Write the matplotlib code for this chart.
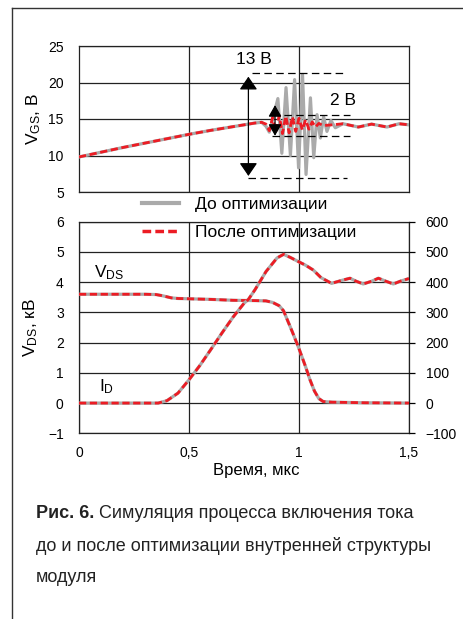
import matplotlib
matplotlib.use('Agg')
import matplotlib.pyplot as plt
from matplotlib.lines import Line2D

plt.rcParams['font.family'] = ['Liberation Sans', 'DejaVu Sans']
plt.rcParams['mathtext.fontset'] = 'custom'
plt.rcParams['mathtext.rm'] = 'Liberation Sans'

GRAY = '#aaaaaa'
RED = '#ec1c24'

# V_GS before optimisation (gray), t in us, V in volts
t_gs_before = [0, 0.1, 0.2, 0.3, 0.4, 0.5, 0.6, 0.7, 0.75, 0.8, 0.83, 0.85, 0.865,
               0.885, 0.904, 0.922, 0.941, 0.961, 0.980, 0.998, 1.016, 1.032, 1.052,
               1.067, 1.082, 1.097, 1.112, 1.127, 1.145, 1.165, 1.2, 1.27, 1.33, 1.40,
               1.455, 1.5]
v_gs_before = [9.8, 10.45, 11.1, 11.7, 12.3, 12.9, 13.45, 13.95, 14.2, 14.45, 14.55, 14.0, 13.2,
               15.5, 17.8, 10.3, 19.3, 10.0, 20.4, 8.3, 21.1, 7.4, 17.9,
               9.7, 15.6, 12.4, 15.3, 13.3, 14.8, 13.8, 14.35, 13.9, 14.3, 13.9,
               14.35, 14.2]

# V_GS after optimisation (red dashed)
t_gs_after = [0, 0.1, 0.2, 0.3, 0.4, 0.5, 0.6, 0.7, 0.75, 0.8, 0.83, 0.85, 0.865,
              0.88, 0.895, 0.91, 0.925, 0.94, 0.955, 0.97, 0.985, 1.0, 1.015, 1.03,
              1.045, 1.06, 1.075, 1.09, 1.11, 1.15, 1.2, 1.27, 1.33, 1.40, 1.455, 1.5]
v_gs_after = [9.8, 10.45, 11.1, 11.7, 12.3, 12.9, 13.45, 13.95, 14.2, 14.45, 14.55, 14.3, 13.4,
              15.2, 13.2, 15.5, 13.0, 15.4, 13.1, 15.3, 13.3, 15.1, 13.5, 14.9,
              13.6, 14.6, 13.9, 14.4, 14.1, 14.2, 14.35, 13.9, 14.3, 13.9, 14.35, 14.2]

# V_DS, kV (left axis)
t_ds = [0.0, 0.3, 0.35, 0.38, 0.42, 0.45, 0.5, 0.6, 0.7, 0.8, 0.85, 0.88, 0.91, 0.93,
        0.95, 0.97, 1.0, 1.03, 1.05, 1.07, 1.09, 1.11, 1.15, 1.3, 1.5]
v_ds = [3.6, 3.6, 3.59, 3.55, 3.48, 3.46, 3.45, 3.43, 3.4, 3.39, 3.38, 3.33, 3.22, 3.05,
        2.7, 2.35, 1.8, 1.2, 0.77, 0.4, 0.15, 0.05, 0.03, 0.01, 0.0]

# I_D, A (right axis)
t_id = [0.0, 0.36, 0.4, 0.45, 0.5, 0.55, 0.6, 0.65, 0.7, 0.75, 0.77, 0.8, 0.85, 0.9,
        0.93, 0.96, 1.0, 1.03, 1.065, 1.1, 1.148, 1.19, 1.232, 1.26, 1.292, 1.33,
        1.361, 1.395, 1.429, 1.46, 1.5]
i_d = [0, 0, 8, 33, 77, 125, 178, 232, 284, 330, 343, 375, 435, 480,
       492, 482, 467, 456, 440, 415, 396, 405, 413, 403, 394, 403,
       413, 403, 394, 403, 412]

x_ticks = [0, 0.5, 1, 1.5]
x_labels = ['0', '0,5', '1', '1,5']

W, H = 464, 619
fig = plt.figure(figsize=(W / 100, H / 100), dpi=100)

def px_box(x0, y0, x1, y1):
    return [x0 / W, 1 - y1 / H, (x1 - x0) / W, (y1 - y0) / H]

gray_kw = dict(color=GRAY, lw=2.3, solid_joinstyle='round', zorder=3)
red_kw = dict(color=RED, lw=2.0, ls=(0, (2.6, 1.3)), zorder=4)

# ---- top panel: V_GS
ax1 = fig.add_axes(px_box(79, 46, 409, 192))
ax1.plot(t_gs_before, v_gs_before, **gray_kw)
ax1.plot(t_gs_after, v_gs_after, **red_kw)
ax1.set_xlim(0, 1.5)
ax1.set_ylim(5, 25)
ax1.set_yticks([5, 10, 15, 20, 25])
ax1.set_xticks([0.5, 1.0])
ax1.set_xticklabels([])
ax1.tick_params(axis='both', length=0, labelsize=10, pad=11)
ax1.grid(True, color='#222222', lw=0.9)
ax1.set_axisbelow(True)
for s in ax1.spines.values():
    s.set_color('#222222')
    s.set_linewidth(0.9)
ax1.set_ylabel(r'$\mathregular{V_{GS}}$, В', fontsize=12.5, labelpad=4)

dash_kw = dict(color='black', lw=0.9, ls=(0, (6, 3.5)), zorder=5)
ax1.plot([0.785, 1.217], [21.35, 21.35], **dash_kw)
ax1.plot([0.77, 1.217], [6.96, 6.96], **dash_kw)
ax1.plot([0.876, 1.232], [15.55, 15.55], **dash_kw)
ax1.plot([0.876, 1.232], [12.67, 12.67], **dash_kw)
ax1.annotate('', xy=(0.77, 20.8), xytext=(0.77, 7.2),
             arrowprops=dict(arrowstyle='<|-|>,head_length=0.8,head_width=0.55',
                             color='black', lw=0.9, shrinkA=0, shrinkB=0,
                             mutation_scale=10), zorder=6)
ax1.annotate('', xy=(0.891, 16.9), xytext=(0.891, 12.7),
             arrowprops=dict(arrowstyle='<|-|>,head_length=0.7,head_width=0.4',
                             color='black', lw=0.9, shrinkA=0, shrinkB=0,
                             mutation_scale=10), zorder=6)
ax1.text(0.715, 23.2, '13 В', fontsize=12.5, va='center', ha='left')
ax1.text(1.14, 17.5, '2 В', fontsize=12.5, va='center', ha='left')

# ---- bottom panel: V_DS and I_D
ax2 = fig.add_axes(px_box(79, 221.7, 409, 433.3))
ax2.plot(t_ds, v_ds, **gray_kw)
ax2.plot(t_ds, v_ds, **red_kw)
ax2.set_xlim(0, 1.5)
ax2.set_ylim(-1, 6)
ax2.set_yticks(range(-1, 7))
ax2.set_xticks(x_ticks)
ax2.set_xticklabels(x_labels)
ax2.tick_params(axis='y', length=0, labelsize=10, pad=11)
ax2.tick_params(axis='x', length=0, labelsize=10, pad=9)
ax2.grid(True, color='#222222', lw=0.9)
ax2.set_axisbelow(True)
for s in ax2.spines.values():
    s.set_color('#222222')
    s.set_linewidth(0.9)
ax2.set_ylabel(r'$\mathregular{V_{DS}}$, кВ', fontsize=12.5, labelpad=6)

ax3 = ax2.twinx()
ax3.plot(t_id, i_d, **gray_kw)
ax3.plot(t_id, i_d, **red_kw)
ax3.set_ylim(-100, 600)
ax3.set_yticks(range(-100, 700, 100))
ax3.tick_params(axis='y', length=4, width=0.9, labelsize=10, pad=8, direction='out')
for s in ax3.spines.values():
    s.set_visible(False)

ax2.text(0.07, 4.3, r'$\mathregular{V_{DS}}$', fontsize=12.5, va='center')
ax2.text(0.09, 0.55, r'$\mathregular{I_{D}}$', fontsize=12.5, va='center')

fig.text(256 / W, 1 - 471 / H, 'Время, мкс', fontsize=12, ha='center', va='center')

# ---- legend drawn by hand between panels
fig.add_artist(Line2D([142 / W, 179 / W], [1 - 202.5 / H] * 2, color=GRAY, lw=3.0))
fig.add_artist(Line2D([142 / W, 179 / W], [1 - 231 / H] * 2, color=RED, lw=2.5,
                      ls=(0, (2.5, 1.2))))
fig.text(195 / W, 1 - 205 / H, 'До оптимизации', fontsize=12.5, va='center')
fig.text(195 / W, 1 - 233 / H, 'После оптимизации', fontsize=12.5, va='center')

# ---- frame
fig.add_artist(Line2D([12 / W, 12 / W], [0, 1 - 8 / H], color='#333333', lw=1.0))
fig.add_artist(Line2D([12 / W, 1], [1 - 8 / H] * 2, color='#333333', lw=1.0))

# ---- caption
cap_font = ['Liberation Sans Narrow', 'Liberation Sans', 'DejaVu Sans']
b = fig.text(36 / W, 1 - 513 / H, 'Рис. 6.', fontsize=13, fontweight='bold',
             family=cap_font, va='center', color='#222222')
fig.canvas.draw()
bb = b.get_window_extent()
fig.text((bb.x1 + 5) / W, 1 - 513 / H, 'Симуляция процесса включения тока',
         fontsize=13, family=cap_font, va='center', color='#222222')
fig.text(36 / W, 1 - 546 / H, 'до и после оптимизации внутренней структуры',
         fontsize=13, family=cap_font, va='center', color='#222222')
fig.text(36 / W, 1 - 578 / H, 'модуля', fontsize=13, family=cap_font, va='center',
         color='#222222')

fig.savefig('out.png', dpi=100)
